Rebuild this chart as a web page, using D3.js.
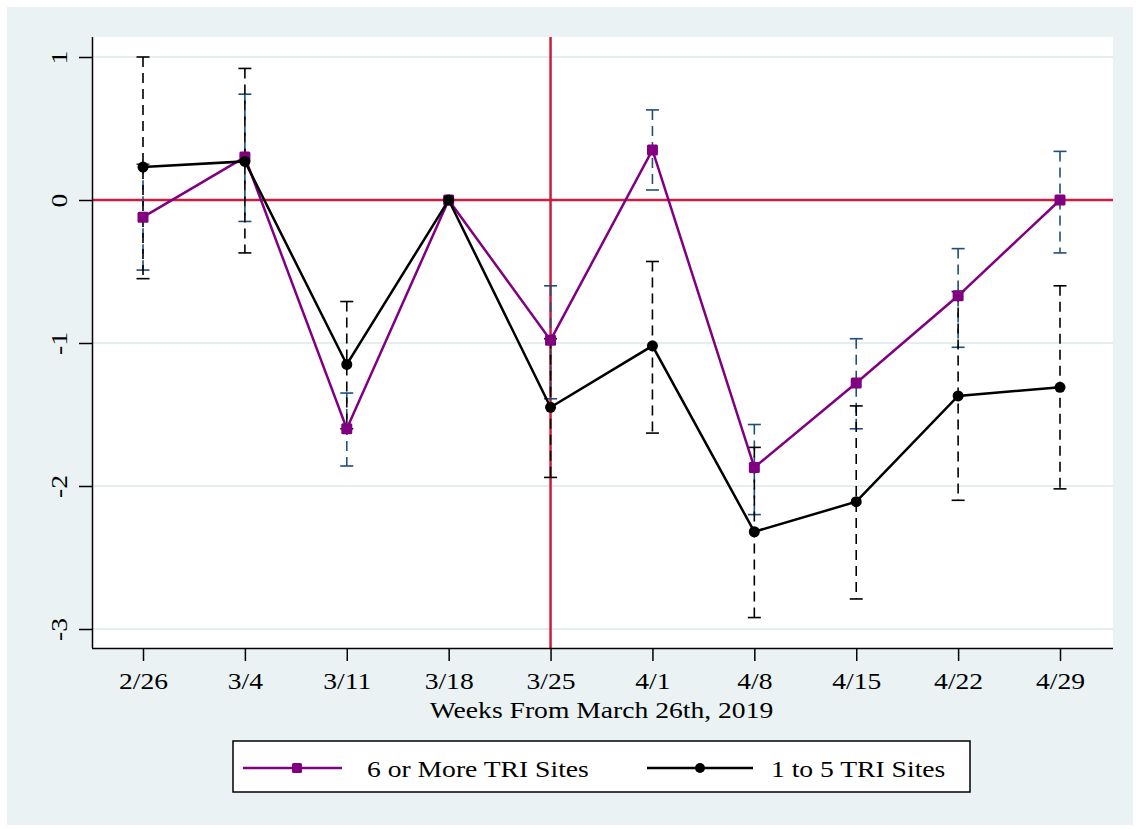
<!DOCTYPE html>
<html>
<head>
<meta charset="utf-8">
<script src="https://d3js.org/d3.v7.min.js"></script>
<style>
  body { margin: 0; background: #fff; }
</style>
</head>
<body>
<div id="chart"></div>
<script>
var weeks = ['2/26', '3/4', '3/11', '3/18', '3/25', '4/1', '4/8', '4/15', '4/22', '4/29'];
var yTicks = [1, 0, -1, -2, -3];

// 6 or More TRI Sites
var moreEst = [-0.12, 0.30, -1.60, 0, -0.98, 0.35, -1.87, -1.28, -0.67, 0];
var moreLo  = [-0.49, -0.15, -1.86, null, -1.39, 0.07, -2.20, -1.60, -1.03, -0.37];
var moreHi  = [0.25, 0.74, -1.35, null, -0.60, 0.63, -1.57, -0.97, -0.34, 0.34];

// 1 to 5 TRI Sites
var fewEst = [0.23, 0.27, -1.15, 0, -1.45, -1.02, -2.32, -2.11, -1.37, -1.31];
var fewLo  = [-0.55, -0.37, -1.60, null, -1.94, -1.63, -2.92, -2.79, -2.10, -2.02];
var fewHi  = [1.00, 0.92, -0.71, null, -0.97, -0.43, -1.73, -1.44, -0.64, -0.60];

var purple = '#800080';
var navy = '#1f4e79';
var cranberry = '#cc1d3f';
var bgBlue = '#eaf2f4';
var serif = "'Liberation Serif', 'Times New Roman', serif";
var stretch = ' scale(1.15,1)';   // the original text is a little wide

var fullWidth = 1140, fullHeight = 829;
var margin = {top: 37, right: 27, bottom: 181, left: 92};
var width = fullWidth - margin.left - margin.right;
var height = fullHeight - margin.top - margin.bottom;

var root = d3.select('#chart').append('svg')
  .attr('width', fullWidth)
  .attr('height', fullHeight);

root.append('rect')
  .attr('x', 7).attr('y', 7)
  .attr('width', 1126).attr('height', 818)
  .style('fill', bgBlue);

var svg = root.append('g')
  .attr('transform', 'translate(' + margin.left + ',' + margin.top + ')');

svg.append('rect')
  .attr('width', width)
  .attr('height', height)
  .style('fill', '#fff');

var xScale = d3.scalePoint()
  .domain(weeks)
  .range([51, 968]);

var yScale = d3.scaleLinear()
  .domain([-3, 1])
  .range([592, 20]);

// grid
svg.append('g').selectAll('line.grid').data(yTicks).enter()
  .append('line')
    .attr('x1', 0).attr('x2', width)
    .attr('y1', function(d) { return yScale(d); })
    .attr('y2', function(d) { return yScale(d); })
    .style('stroke', '#e4eef0')
    .style('stroke-width', 2);

// reference lines
svg.append('line')
  .attr('x1', 0).attr('x2', width)
  .attr('y1', yScale(0)).attr('y2', yScale(0))
  .style('stroke', cranberry).style('stroke-width', 2.5);
svg.append('line')
  .attr('x1', xScale('3/25')).attr('x2', xScale('3/25'))
  .attr('y1', 0).attr('y2', height)
  .style('stroke', cranberry).style('stroke-width', 2.5);

// axes
var xAxis = d3.axisBottom(xScale).tickSize(13);
var yAxis = d3.axisLeft(yScale).tickValues(yTicks).tickSize(13)
  .tickFormat(function(d) { return String(d); });

var xAxisEle = svg.append('g')
  .attr('transform', 'translate(0,' + height + ')')
  .call(xAxis);
xAxisEle.select('.domain').attr('d', 'M0,0.5H' + width).style('stroke-width', 1.5);
xAxisEle.selectAll('.tick line').style('stroke-width', 1.5);
xAxisEle.selectAll('.tick text')
  .style('font-family', serif)
  .style('font-size', '24px')
  .attr('y', null).attr('dy', null)
  .attr('transform', 'translate(0,41)' + stretch);

var yAxisEle = svg.append('g').call(yAxis);
yAxisEle.select('.domain').attr('d', 'M0.5,0V' + height).style('stroke-width', 1.5);
yAxisEle.selectAll('.tick line').style('stroke-width', 1.5);
yAxisEle.selectAll('.tick text')
  .style('font-family', serif)
  .style('font-size', '24px')
  .style('text-anchor', 'middle')
  .attr('x', null).attr('dy', null)
  .attr('transform', 'translate(-25,0) rotate(-90)' + stretch);

xAxisEle.append('text')
  .style('text-anchor', 'middle')
  .style('font-family', serif)
  .style('font-size', '24px')
  .style('fill', '#000')
  .attr('transform', 'translate(' + (xScale('2/26') + xScale('4/29')) / 2 + ',70)' + stretch)
  .text('Weeks From March 26th, 2019');

// confidence intervals
function drawCI(lo, hi, color) {
  var rows = weeks.map(function(w, i) {
    return {week: w, lo: lo[i], hi: hi[i]};
  }).filter(function(d) { return d.lo !== null; });
  var g = svg.append('g');
  g.selectAll('line.ci').data(rows).enter().append('line')
    .attr('x1', function(d) { return xScale(d.week); })
    .attr('x2', function(d) { return xScale(d.week); })
    .attr('y1', function(d) { return yScale(d.hi); })
    .attr('y2', function(d) { return yScale(d.lo); })
    .style('stroke', color).style('stroke-width', 1.6)
    .style('stroke-dasharray', '10,6');
  ['lo', 'hi'].forEach(function(k) {
    g.selectAll('line.cap' + k).data(rows).enter().append('line')
      .attr('x1', function(d) { return xScale(d.week) - 6.5; })
      .attr('x2', function(d) { return xScale(d.week) + 6.5; })
      .attr('y1', function(d) { return yScale(d[k]); })
      .attr('y2', function(d) { return yScale(d[k]); })
      .style('stroke', color).style('stroke-width', 1.6);
  });
}
drawCI(moreLo, moreHi, navy);
drawCI(fewLo, fewHi, '#000');

// series
var line = d3.line()
  .x(function(d) { return xScale(d.week); })
  .y(function(d) { return yScale(d.val); });

function rows(vals) {
  return weeks.map(function(w, i) { return {week: w, val: vals[i]}; });
}

svg.append('path')
  .datum(rows(moreEst))
  .attr('d', line)
  .style('fill', 'none').style('stroke', purple).style('stroke-width', 2.5);
svg.selectAll('rect.more').data(rows(moreEst)).enter().append('rect')
  .attr('x', function(d) { return xScale(d.week) - 5.5; })
  .attr('y', function(d) { return yScale(d.val) - 5.5; })
  .attr('width', 11).attr('height', 11)
  .attr('rx', 1.5)
  .style('fill', purple);

svg.append('path')
  .datum(rows(fewEst))
  .attr('d', line)
  .style('fill', 'none').style('stroke', '#000').style('stroke-width', 2.5);
svg.selectAll('circle.few').data(rows(fewEst)).enter().append('circle')
  .attr('cx', function(d) { return xScale(d.week); })
  .attr('cy', function(d) { return yScale(d.val); })
  .attr('r', 5.5)
  .style('fill', '#000');

// legend
var legend = root.append('g').attr('class', 'legend');
legend.append('rect')
  .attr('x', 233).attr('y', 741)
  .attr('width', 737).attr('height', 51)
  .style('fill', '#fff').style('stroke', '#000').style('stroke-width', 1.5);

legend.append('line')
  .attr('x1', 243).attr('x2', 342).attr('y1', 768).attr('y2', 768)
  .style('stroke', purple).style('stroke-width', 2.5);
legend.append('rect')
  .attr('x', 292).attr('y', 763).attr('width', 10).attr('height', 10)
  .attr('rx', 1.5)
  .style('fill', purple);
legend.append('text')
  .attr('transform', 'translate(367,777)' + stretch)
  .style('font-family', serif)
  .style('font-size', '24px')
  .text('6 or More TRI Sites');

legend.append('line')
  .attr('x1', 647).attr('x2', 753).attr('y1', 768).attr('y2', 768)
  .style('stroke', '#000').style('stroke-width', 2.5);
legend.append('circle')
  .attr('cx', 700).attr('cy', 768).attr('r', 5)
  .style('fill', '#000');
legend.append('text')
  .attr('transform', 'translate(771,777)' + stretch)
  .style('font-family', serif)
  .style('font-size', '24px')
  .text('1 to 5 TRI Sites');
</script>
</body>
</html>
